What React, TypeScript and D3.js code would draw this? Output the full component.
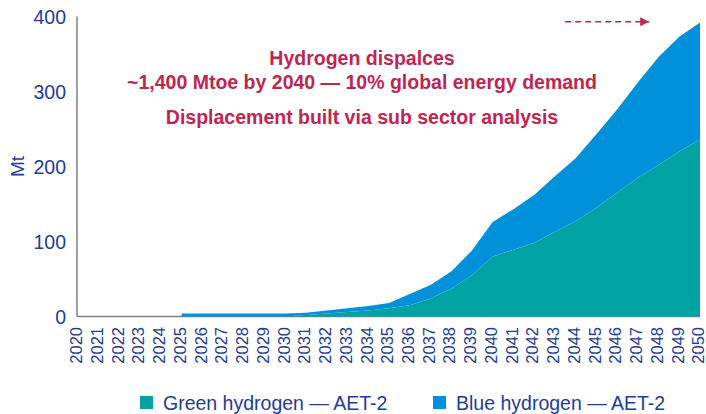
import React, { useRef, useEffect } from 'react';
import * as d3 from 'd3';

const years = d3.range(2020, 2051);
// Mt per year; null = no data before 2025
const greenH2: (number | null)[] = [
  null, null, null, null, null,
  0, 0, 0, 0, 0, 0,
  2, 4, 6, 8, 11, 15, 24, 37, 55, 80,
  89, 98, 113, 127, 145, 165, 185, 202, 220, 236,
];
const blueH2: (number | null)[] = [
  null, null, null, null, null,
  4, 4, 4, 4, 4, 4,
  3, 4, 5, 6, 7, 15, 18, 23, 33, 46,
  54, 64, 74, 84, 98, 111, 127, 144, 153, 156,
];
const yTicks = [0, 100, 200, 300, 400];
const seriesNames = ['Green hydrogen \u2014 AET-2', 'Blue hydrogen \u2014 AET-2'];
const seriesColors = ['#00A3A1', '#0091DA'];
const noteLines = [
  'Hydrogen dispalces',
  '~1,400 Mtoe by 2040 \u2014 10% global energy demand',
  'Displacement built via sub sector analysis',
];

const W = 706;
const H = 414;
const textBlue = '#1F3C96';
const crimson = '#C0254F';
const font = '"Liberation Sans", Arial, sans-serif';

export default function App() {
  const svgRef = useRef<SVGSVGElement>(null);

  useEffect(() => {
    if (!svgRef.current) return;
    const svg = d3.select(svgRef.current);
    svg.selectAll('*').remove();

    const x = d3.scalePoint<number>().domain(years).range([78, 700]);
    const y = d3.scaleLinear().domain([0, 400]).range([316.5, 16.5]);

    const rows = years.map((yr, i) => ({
      year: yr,
      green: greenH2[i],
      blue: blueH2[i],
    }));

    // stacked areas
    const stackGen = d3.stack<any>().keys(['green', 'blue']).value((d, k) => d[k] ?? 0);
    const stacked = stackGen(rows);
    const area = d3.area<any>()
      .defined((d) => d.data.green !== null)
      .x((d) => x(d.data.year) as number)
      .y0((d) => y(d[0]))
      .y1((d) => y(d[1]));

    // axis baseline under the areas
    svg.append('line')
      .attr('x1', 77).attr('x2', 700)
      .attr('y1', y(0)).attr('y2', y(0))
      .attr('stroke', '#808080').attr('stroke-width', 1.5);

    svg.append('g')
      .selectAll('path')
      .data(stacked)
      .join('path')
      .attr('d', (s) => area(s) as string)
      .attr('fill', (_, i) => seriesColors[i]);

    // y axis
    svg.append('line')
      .attr('x1', 77).attr('x2', 77)
      .attr('y1', y(400)).attr('y2', y(0))
      .attr('stroke', '#808080').attr('stroke-width', 1.5);

    svg.append('g')
      .selectAll('text')
      .data(yTicks)
      .join('text')
      .attr('x', 66)
      .attr('y', (d) => y(d))
      .attr('dy', '0.36em')
      .attr('text-anchor', 'end')
      .attr('font-family', font)
      .attr('font-size', 19.5)
      .attr('fill', textBlue)
      .text((d) => d);

    svg.append('text')
      .attr('transform', `translate(17,${y(200)}) rotate(-90)`)
      .attr('dy', '0.36em')
      .attr('text-anchor', 'middle')
      .attr('font-family', font)
      .attr('font-size', 19)
      .attr('fill', textBlue)
      .text('Mt');

    // x tick labels
    svg.append('g')
      .selectAll('text')
      .data(years)
      .join('text')
      .attr('transform', (d) => `translate(${(x(d) as number) - 1.5},327) rotate(-90)`)
      .attr('dy', '0.35em')
      .attr('text-anchor', 'end')
      .attr('font-family', font)
      .attr('font-size', 16.5)
      .attr('fill', textBlue)
      .text((d) => d);

    // annotation text
    const noteY = [58, 82, 117];
    svg.append('g')
      .selectAll('text')
      .data(noteLines)
      .join('text')
      .attr('x', 362)
      .attr('y', (_, i) => noteY[i])
      .attr('dy', '0.36em')
      .attr('text-anchor', 'middle')
      .attr('font-family', font)
      .attr('font-weight', 'bold')
      .attr('font-size', 19.5)
      .attr('fill', crimson)
      .text((d) => d);

    // dashed arrow
    svg.append('defs').append('marker')
      .attr('id', 'arrowhead')
      .attr('viewBox', '0 0 10 10')
      .attr('refX', 10).attr('refY', 5)
      .attr('markerWidth', 9).attr('markerHeight', 9)
      .attr('markerUnits', 'userSpaceOnUse')
      .attr('orient', 'auto')
      .append('path')
      .attr('d', 'M0,0 L10,5 L0,10 Z')
      .attr('fill', crimson);

    svg.append('line')
      .attr('x1', (x(2043) as number) + 0.5 * x.step())
      .attr('x2', (x(2047) as number) + 0.55 * x.step())
      .attr('y1', y(393)).attr('y2', y(393))
      .attr('stroke', crimson)
      .attr('stroke-width', 1.3)
      .attr('stroke-dasharray', '6,4')
      .attr('marker-end', 'url(#arrowhead)');

    // legend
    const legendX = [140, 433];
    const lg = svg.append('g')
      .selectAll('g')
      .data(seriesNames)
      .join('g')
      .attr('transform', (_, i) => `translate(${legendX[i]},396)`);
    lg.append('rect')
      .attr('width', 13).attr('height', 13)
      .attr('fill', (_, i) => seriesColors[i]);
    lg.append('text')
      .attr('x', 23).attr('y', 7)
      .attr('dy', '0.36em')
      .attr('font-family', font)
      .attr('font-size', 19.5)
      .attr('fill', textBlue)
      .text((d) => d);
  }, []);

  return (
    <svg
      ref={svgRef}
      width={W}
      height={H}
      style={{ position: 'absolute', left: 0, top: 0, background: '#fff' }}
    />
  );
}
